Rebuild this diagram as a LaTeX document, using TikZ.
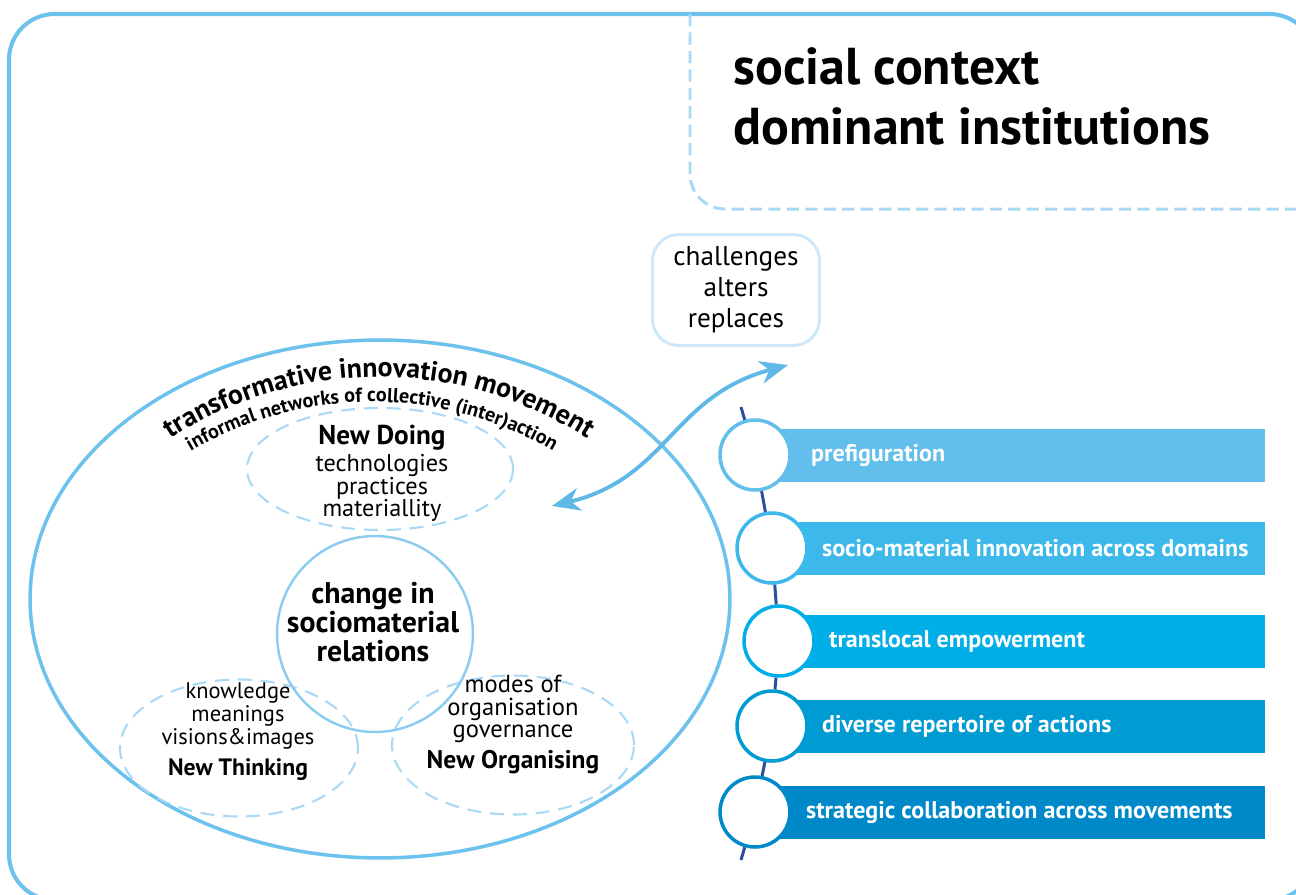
\documentclass[tikz,border=0pt]{standalone}
\usepackage{fontspec}
\setmainfont{PT Sans}
\usetikzlibrary{arrows.meta,decorations.text,shapes.geometric,positioning}

\definecolor{framec}{HTML}{6CC2EC}
\definecolor{dashc}{HTML}{A9D9F4}
\definecolor{boxc}{HTML}{CDE8F8}
\definecolor{linkc}{HTML}{60B8E7}
\definecolor{corec}{HTML}{8CCDEF}
\definecolor{navyc}{HTML}{2B4F9E}
\definecolor{barA}{HTML}{62BEEA}
\definecolor{barB}{HTML}{3CB8EB}
\definecolor{barC}{HTML}{00AEE8}
\definecolor{barD}{HTML}{009BD3}
\definecolor{barE}{HTML}{0089C8}

\tikzset{
  frame/.style={draw=framec, line width=2.3pt, rounded corners=26pt},
  ctxline/.style={draw=dashc, line width=1.7pt, dash pattern=on 7pt off 3.5pt, rounded corners=20pt},
  headtext/.style={font=\fontsize{29.5}{34.5}\selectfont\bfseries, align=left, inner sep=0pt},
  chgbox/.style={draw=boxc, line width=1.7pt, rounded corners=15pt, minimum width=3.34cm,
    minimum height=2.22cm, align=center, font=\fontsize{15.5}{17.6}\selectfont},
  movement/.style={draw=framec, line width=2pt, ellipse, inner sep=0pt},
  sphere/.style={draw=dashc, line width=1.2pt, dash pattern=on 8pt off 5pt, ellipse, inner sep=0pt},
  core/.style={draw=corec, line width=1.4pt, circle, minimum size=3.92cm, inner sep=0pt},
  coretext/.style={font=\fontsize{17}{16.3}\selectfont\bfseries, align=center, inner sep=0pt},
  spheretitle/.style={font=\bfseries, inner sep=0pt},
  spheretext/.style={align=center, inner sep=0pt},
  link/.style={draw=linkc, line width=2.2pt, {Stealth[length=16pt, width=13pt, inset=5pt]}-{Stealth[length=16pt, width=13pt, inset=5pt]}},
  stage/.style={circle, fill=white, line width=2pt, minimum size=1.4cm, inner sep=0pt},
  stagetext/.style={font=\fontsize{13.7}{15}\selectfont\bfseries, text=white, inner sep=0pt},
  spine/.style={draw=navyc, line width=1.7pt},
}

\begin{document}
\begin{tikzpicture}[x=0.02cm, y=-0.02cm]
\useasboundingbox (0,0) rectangle (1296,894);
\clip (0,0) rectangle (1296,894);

% social context
\draw[frame] (9,14) rectangle (1315,900);
\draw[ctxline] (690,14) -- (690,209) -- (1315,209);
\node[headtext, anchor=north west] (context) at (733,47) {social context\\dominant institutions};
\node[chgbox] (challenges) at (736,290) {challenges\\alters\\replaces};

% the movement
\node[movement, minimum width=14cm, minimum height=10.36cm] (tim) at (380,599) {};
\path[decorate, decoration={text along path, text align=center,
  text={|\fontsize{15.8}{16}\selectfont\bfseries|transformative innovation movement}}]
  (379,760) ++(-155:383) arc[start angle=-155, end angle=-25, radius=383];
\path[decorate, decoration={text along path, text align=center,
  text={|\fontsize{11.5}{12}\selectfont\bfseries|informal networks of collective (inter)action}}]
  (372,760) ++(-155:358) arc[start angle=-155, end angle=-25, radius=358];

\node[sphere, minimum width=5.32cm, minimum height=2.44cm] (doing) at (380,469) {};
\node[spheretitle, font=\fontsize{15.5}{16}\selectfont\bfseries] (doingT) at (382,438) {New Doing};
\node[spheretext, font=\fontsize{13.8}{13}\selectfont] (doingL) at (382,488) {technologies\\practices\\materiallity};

\node[sphere, minimum width=4.76cm, minimum height=2.74cm] (thinking) at (239,748) {};
\node[spheretext, font=\fontsize{12.8}{13.3}\selectfont] (thinkingL) at (238,716) {knowledge\\meanings\\visions\&images};
\node[spheretitle, font=\fontsize{13.5}{14}\selectfont\bfseries] (thinkingT) at (238,770) {New Thinking};

\node[sphere, minimum width=4.84cm, minimum height=2.78cm] (organising) at (513,745) {};
\node[spheretext, font=\fontsize{14}{13}\selectfont] (organisingL) at (513,709) {modes of\\organisation\\governance};
\node[spheretitle, font=\fontsize{14.5}{15}\selectfont\bfseries] (organisingT) at (513,762) {New Organising};

\node[core] (change) at (375,634) {};
\node[coretext] (changeT) at (373,622) {change in\\sociomaterial\\relations};

% challenges <-> movement
\coordinate (linkL) at (552,506);
\coordinate (linkR) at (788,365);
\draw[link] (linkL) .. controls (668,478) and (672,396) .. (linkR);

% repertoire
\foreach \i/\cx/\cy/\col/\gap/\txt in {
  1/755/455/barA/0.38/prefiguration,
  2/772/548/barB/0.26/socio-material innovation across domains,
  3/779/641/barC/0.26/translocal empowerment,
  4/772/726/barD/0.26/diverse repertoire of actions,
  5/755/812/barE/0.28/strategic collaboration across movements}
{
  \fill[\col] (\cx,\cy-26.5) rectangle (1265,\cy+26.5);
  \node[stage, draw=\col] (c\i) at (\cx,\cy) {};
  \node[stagetext, right=\gap cm of c\i] (t\i) {\txt};
}
\coordinate (spineTop) at (741,407);
\coordinate (spineBot) at (741,860);
\draw[spine] (spineTop) -- (c1) -- (c2) -- (c3) -- (c4) -- (c5) -- (spineBot);
\end{tikzpicture}
\end{document}
